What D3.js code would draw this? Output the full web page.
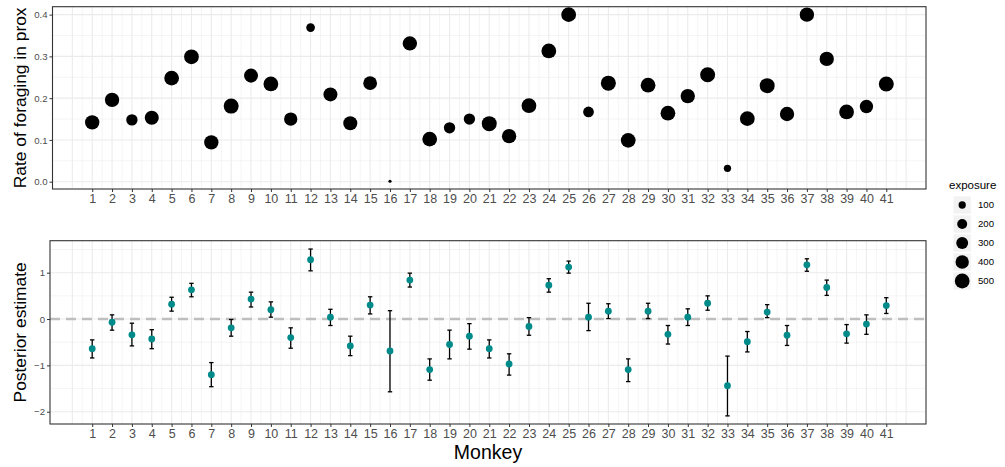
<!DOCTYPE html>
<html>
<head>
<meta charset="utf-8">
<script src="https://cdn.jsdelivr.net/npm/d3@7"></script>
<style>
  body { margin: 0; background: #fff; }
  svg { font-family: "Liberation Sans", Arial, sans-serif; }
  .tick text { fill: #4d4d4d; }
  .tick line { stroke: #333; }
</style>
</head>
<body>
<svg id="chart" width="1005" height="467"></svg>
<script>
let monkeys = [1, 2, 3, 4, 5, 6, 7, 8, 9, 10, 11, 12, 13, 14, 15, 16, 17, 18, 19, 20,
               21, 22, 23, 24, 25, 26, 27, 28, 29, 30, 31, 32, 33, 34, 35, 36, 37, 38, 39, 40, 41];
let rate = [0.142, 0.196, 0.148, 0.153, 0.248, 0.299, 0.094, 0.181, 0.254, 0.234,
            0.150, 0.369, 0.209, 0.140, 0.236, 0.001, 0.331, 0.102, 0.129, 0.150,
            0.139, 0.109, 0.182, 0.313, 0.400, 0.167, 0.236, 0.099, 0.231, 0.164,
            0.205, 0.256, 0.032, 0.151, 0.230, 0.162, 0.400, 0.294, 0.167, 0.180, 0.234];
let exposure = [468, 468, 269, 445, 500, 500, 468, 520, 445, 500,
                395, 146, 445, 445, 424, 42, 468, 500, 269, 269,
                520, 468, 500, 500, 500, 236, 520, 500, 500, 500,
                468, 520, 100, 500, 520, 468, 468, 468, 500, 395, 520];
let estimate = [-0.64, -0.07, -0.34, -0.43, 0.32, 0.63, -1.20, -0.19, 0.43, 0.20,
                -0.40, 1.28, 0.04, -0.58, 0.30, -0.69, 0.84, -1.09, -0.55, -0.37,
                -0.64, -0.97, -0.16, 0.73, 1.12, 0.04, 0.17, -1.09, 0.17, -0.33,
                0.04, 0.34, -1.44, -0.49, 0.15, -0.35, 1.17, 0.68, -0.32, -0.11, 0.29];
let lower = [-0.84, -0.24, -0.58, -0.64, 0.17, 0.48, -1.46, -0.37, 0.26, 0.04,
             -0.63, 1.04, -0.14, -0.79, 0.11, -1.57, 0.69, -1.32, -0.86, -0.65,
             -0.84, -1.21, -0.35, 0.58, 0.99, -0.25, 0.01, -1.35, 0.01, -0.54,
             -0.14, 0.19, -2.09, -0.71, 0.03, -0.57, 1.03, 0.51, -0.52, -0.33, 0.12];
let upper = [-0.45, 0.09, -0.09, -0.23, 0.47, 0.77, -0.94, -0.01, 0.58, 0.37,
             -0.19, 1.51, 0.21, -0.37, 0.48, 0.18, 0.99, -0.86, -0.24, -0.10,
             -0.45, -0.75, 0.03, 0.87, 1.25, 0.34, 0.33, -0.86, 0.34, -0.14,
             0.22, 0.50, -0.80, -0.27, 0.31, -0.14, 1.30, 0.84, -0.12, 0.09, 0.46];
let rate_ticks = [0, 0.1, 0.2, 0.3, 0.4],
    est_ticks = [-2, -1, 0, 1],
    legend_breaks = [100, 200, 300, 400, 500];

let width = 1005,
  height = 467,
  top_panel = {left: 52.5, right: 926, top: 6.7, bottom: 189},
  bot_panel = {left: 50, right: 926, top: 240.7, bottom: 424},
  grid_col = "#ebebeb",
  teal = "#008b8b";

let top_rows = monkeys.map((m, i) => ({monkey: m, rate: rate[i], exposure: exposure[i]}));
let bot_rows = monkeys.map((m, i) => ({monkey: m, est: estimate[i], lo: lower[i], hi: upper[i]}));

function make_scales() {
  let t = d3.scaleLinear().domain(d3.extent(exposure)).range([0, 1]),
      diam = d3.scaleLinear().domain([0, 1]).range([3.2, 15]);
  return {
    x: d3.scaleLinear().domain([-1, 43]).range([top_panel.left, top_panel.right]),
    y_top: d3.scaleLinear().domain([-0.0175, 0.419]).range([top_panel.bottom, top_panel.top]),
    y_bot: d3.scaleLinear().domain([-2.265, 1.69]).range([bot_panel.bottom, bot_panel.top]),
    r: v => diam(Math.sqrt(Math.max(0, t(v)))) / 2
  }
}

function panel(svg, p, x, y, y_major, y_minor) {
  let g = svg.append("g");
  g.append("rect")
    .attr("x", p.left).attr("y", p.top)
    .attr("width", p.right - p.left).attr("height", p.bottom - p.top)
    .attr("fill", "#fff");
  let xs = d3.range(0, 42.01, 0.5);
  g.selectAll(".vgrid").data(xs).enter().append("line")
    .attr("x1", d => x(d)).attr("x2", d => x(d))
    .attr("y1", p.top).attr("y2", p.bottom)
    .attr("stroke", grid_col)
    .attr("stroke-width", d => d % 1 == 0 ? 1.1 : 0.55);
  g.selectAll(".hminor").data(y_minor).enter().append("line")
    .attr("x1", p.left).attr("x2", p.right)
    .attr("y1", d => y(d)).attr("y2", d => y(d))
    .attr("stroke", grid_col).attr("stroke-width", 0.55);
  g.selectAll(".hmajor").data(y_major).enter().append("line")
    .attr("x1", p.left).attr("x2", p.right)
    .attr("y1", d => y(d)).attr("y2", d => y(d))
    .attr("stroke", grid_col).attr("stroke-width", 1.1);
  return g;
}

function border(svg, p) {
  svg.append("rect")
    .attr("x", p.left).attr("y", p.top)
    .attr("width", p.right - p.left).attr("height", p.bottom - p.top)
    .attr("fill", "none").attr("stroke", "#333").attr("stroke-width", 1.1);
}

function axes(svg, p, x, y, yticks, yfmt) {
  let xa = svg.append("g")
    .attr("transform", `translate(0, ${p.bottom})`)
    .call(d3.axisBottom(x).tickValues(monkeys).tickSize(3).tickPadding(2).tickFormat(d3.format("d")));
  xa.select(".domain").remove();
  xa.selectAll("text").attr("font-size", 12.5).attr("font-family", null);

  let ya = svg.append("g")
    .attr("transform", `translate(${p.left}, 0)`)
    .call(d3.axisLeft(y).tickValues(yticks).tickSize(3).tickPadding(2).tickFormat(yfmt));
  ya.select(".domain").remove();
  ya.selectAll("text").attr("font-size", 9.6).attr("font-family", null);
}

function draw() {
  let s = make_scales();
  let svg = d3.select("#chart");

  // top panel: raw rates sized by exposure
  panel(svg, top_panel, s.x, s.y_top, rate_ticks, [0.05, 0.15, 0.25, 0.35]);
  svg.append("g").selectAll("circle")
    .data(top_rows).enter()
    .append("circle")
    .attr("cx", d => s.x(d.monkey))
    .attr("cy", d => s.y_top(d.rate))
    .attr("r", d => s.r(d.exposure))
    .attr("fill", "#000");
  border(svg, top_panel);
  axes(svg, top_panel, s.x, s.y_top, rate_ticks, d3.format(".1f"));

  // bottom panel: posterior estimates with intervals
  panel(svg, bot_panel, s.x, s.y_bot, est_ticks, [-1.5, -0.5, 0.5, 1.5]);
  svg.append("line")
    .attr("x1", bot_panel.left).attr("x2", bot_panel.right)
    .attr("y1", s.y_bot(0)).attr("y2", s.y_bot(0))
    .attr("stroke", "#bebebe").attr("stroke-width", 2.4)
    .attr("stroke-dasharray", "10,6");
  let eb = svg.append("g").selectAll("g")
    .data(bot_rows).enter().append("g")
    .attr("stroke", "#000").attr("stroke-width", 1.3);
  eb.append("line")
    .attr("x1", d => s.x(d.monkey)).attr("x2", d => s.x(d.monkey))
    .attr("y1", d => s.y_bot(d.lo)).attr("y2", d => s.y_bot(d.hi));
  eb.append("line")
    .attr("x1", d => s.x(d.monkey) - 2.2).attr("x2", d => s.x(d.monkey) + 2.2)
    .attr("y1", d => s.y_bot(d.lo)).attr("y2", d => s.y_bot(d.lo));
  eb.append("line")
    .attr("x1", d => s.x(d.monkey) - 2.2).attr("x2", d => s.x(d.monkey) + 2.2)
    .attr("y1", d => s.y_bot(d.hi)).attr("y2", d => s.y_bot(d.hi));
  svg.append("g").selectAll("circle")
    .data(bot_rows).enter()
    .append("circle")
    .attr("cx", d => s.x(d.monkey))
    .attr("cy", d => s.y_bot(d.est))
    .attr("r", 3.4)
    .attr("fill", teal);
  border(svg, bot_panel);
  axes(svg, bot_panel, s.x, s.y_bot, est_ticks, d => d3.format("d")(d).replace("-", "\u2212"));

  // titles
  svg.append("text").text("Rate of foraging in prox")
    .attr("transform", `translate(26, ${(top_panel.top + top_panel.bottom) / 2}) rotate(-90)`)
    .attr("text-anchor", "middle").attr("font-size", 17.4).attr("fill", "#000");
  svg.append("text").text("Posterior estimate")
    .attr("transform", `translate(26, ${(bot_panel.top + bot_panel.bottom) / 2}) rotate(-90)`)
    .attr("text-anchor", "middle").attr("font-size", 17.4).attr("fill", "#000");
  svg.append("text").text("Monkey")
    .attr("x", (bot_panel.left + bot_panel.right) / 2).attr("y", 459)
    .attr("text-anchor", "middle").attr("font-size", 19.5).attr("fill", "#000");

  legend(svg, s.r);
}

function legend(svg, r) {
  let g = svg.append("g").attr("transform", "translate(949, 0)");
  g.append("text").text("exposure")
    .attr("x", 0).attr("y", 189).attr("font-size", 11.5).attr("fill", "#000");
  let key = g.selectAll(".key").data(legend_breaks).enter().append("g")
    .attr("transform", (d, i) => `translate(0, ${205 + i * 19})`);
  key.append("rect")
    .attr("x", 4.5).attr("y", -8.6).attr("width", 17.3).attr("height", 17.3)
    .attr("fill", "#f2f2f2");
  key.append("circle")
    .attr("cx", 13.2).attr("cy", 0).attr("r", d => r(d)).attr("fill", "#000");
  key.append("text").text(d => d)
    .attr("x", 29).attr("y", 0).attr("dy", "0.35em")
    .attr("font-size", 9.6).attr("fill", "#000");
}

draw();
</script>
</body>
</html>
